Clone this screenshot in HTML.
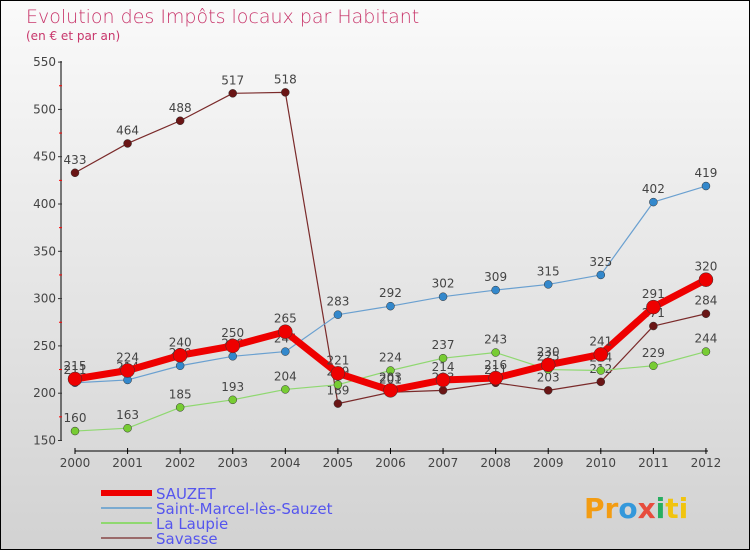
<!DOCTYPE html>
<html><head><meta charset="utf-8"><style>
body{margin:0;}
#wrap{width:748px;height:548px;border:1px solid #000;background:linear-gradient(#fafafa,#d2d2d2);position:relative;overflow:hidden;font-family:"DejaVu Sans","Liberation Sans",sans-serif;}
</style></head><body>
<div id="wrap">
<svg id="chart" width="748" height="548">
<text x="25" y="22" font-size="19" fill="#c8366b" style="font-family:'DejaVu Sans',sans-serif;font-weight:200">Evolution des Impôts locaux par Habitant</text>
<text x="25" y="39" font-size="12" fill="#c8366b">(en € et par an)</text>
<g id="axes"></g><g id="series"></g><g id="legend"></g>
<text x="583" y="517" font-size="28" font-weight="bold"><tspan fill="#f39c12">Pr</tspan><tspan fill="#3498db">o</tspan><tspan fill="#e74c3c">x</tspan><tspan fill="#27ae60">i</tspan><tspan fill="#f1c40f">ti</tspan></text>
</svg></div>
<script>
const years=[2000,2001,2002,2003,2004,2005,2006,2007,2008,2009,2010,2011,2012];
const yTicks=[150,200,250,300,350,400,450,500,550];
const sauzet=[215,224,240,250,265,221,203,214,216,230,241,291,320];
const stMarcel=[211,214,229,239,244,283,292,302,309,315,325,402,419];
const laupie=[160,163,185,193,204,209,224,237,243,225,224,229,244];
const savasse=[433,464,488,517,518,189,201,203,211,203,212,271,284];
const NS="http://www.w3.org/2000/svg";
function X(i){return 74+i*52.58;}
function Y(v){return 439.5-(v-150)*47.3/50;}
function mk(tag,attrs,parent,txt){const e=document.createElementNS(NS,tag);for(const k in attrs)e.setAttribute(k,attrs[k]);if(txt!==undefined)e.textContent=txt;parent.appendChild(e);return e;}
const ax=document.getElementById('axes');
let e=mk('line',{x1:60,y1:60,x2:60,y2:440,stroke:'#000'},ax);


e=mk('line',{x1:74,y1:450,x2:707,y2:450,stroke:'#000'},ax);


yTicks.forEach((v,i)=>{
 mk('line',{x1:57,x2:61,y1:Y(v),y2:Y(v),stroke:'#333'},ax);
 const t=mk('text',{x:55,y:Y(v)+4,'text-anchor':'end','font-size':12,fill:'#444'},ax,v);
 
 
 if(i<yTicks.length-1) mk('line',{x1:58,x2:61,y1:Y(v+25),y2:Y(v+25),stroke:'#f00'},ax);
});
years.forEach((y,i)=>{
 mk('line',{x1:X(i),x2:X(i),y1:447,y2:453,stroke:'#000'},ax);
 const t=mk('text',{x:X(i),y:466,'text-anchor':'middle','font-size':12,fill:'#444'},ax,y);
 
 
});
const sg=document.getElementById('series');
function series(name,data,color,w,r,dot){
 const g=mk('g',{},sg);
 
 
 const p=mk('polyline',{points:data.map((v,i)=>X(i)+','+Y(v)).join(' '),fill:'none',stroke:color,'stroke-width':w,'stroke-linejoin':'round'},g);
 
 
 data.forEach((v,i)=>{
  const c=mk('circle',{cx:X(i),cy:Y(v),r:r,fill:dot,stroke:'#333','stroke-width':0.5},g);
  
  
  const t=mk('text',{x:X(i),y:Y(v)-9,'text-anchor':'middle','font-size':12,fill:'#444'},g,v);
  
  
 });
}
series('savasse',savasse,'#7a2a2a',1.2,4,'#6a1515');
series('la-laupie',laupie,'#8fd870',1.2,4,'#77cc33');
series('saint-marcel',stMarcel,'#6aa0d0',1.2,4,'#3388cc');
series('sauzet',sauzet,'#ee0000',7,7,'#ee0000');
const lg=document.getElementById('legend');
const leg=[['SAUZET','#ee0000',6],['Saint-Marcel-lès-Sauzet','#7aaad0',2],['La Laupie','#8fd870',2],['Savasse','#9a6a6a',2]];
leg.forEach((d,i)=>{
 const y=492+i*15;
 const g=mk('g',{},lg);
 
 
 mk('line',{x1:100,x2:151,y1:y,y2:y,stroke:d[1],'stroke-width':d[2]},g);
 mk('text',{x:155,y:y+6,'font-size':15,fill:'#5555ee'},g,d[0]);
});
</script>
</body></html>
